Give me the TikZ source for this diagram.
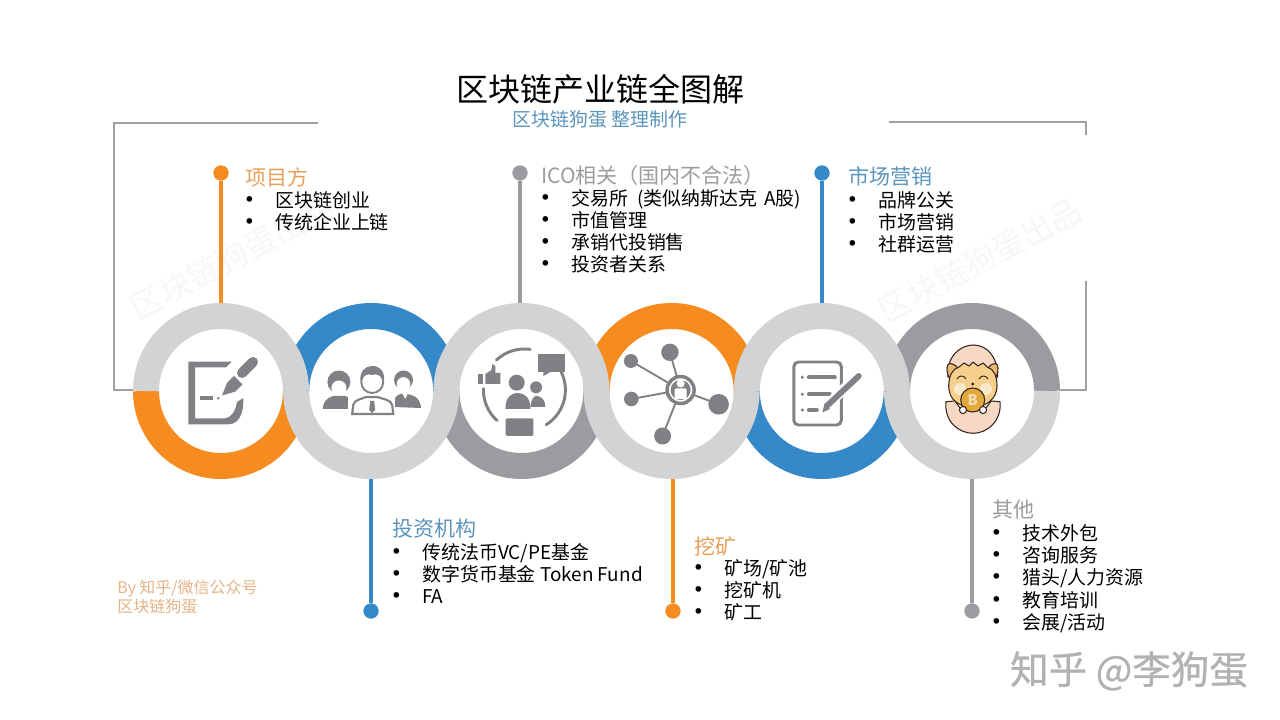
\documentclass[tikz,border=0pt]{standalone}
\usepackage{xcolor}
\usepackage{fontspec}
\setmainfont{Noto Sans CJK SC}
\newfontfamily\zhihufont[FakeBold=.8]{Noto Sans CJK SC}
\usetikzlibrary{arrows,positioning,shapes}
\usetikzlibrary{calc}
\definecolor{ringgrey}{HTML}{D1D3D4}
\definecolor{darkgrey}{HTML}{9A9CA0}
\definecolor{icongrey}{HTML}{808184}
\definecolor{myorange}{HTML}{F68B1F}
\definecolor{myblue}{HTML}{3689C9}
\definecolor{headorange}{HTML}{E8A05A}
\definecolor{headblue}{HTML}{5B95BD}
\definecolor{bylinetan}{HTML}{E6B486}
\definecolor{framegrey}{HTML}{A0A0A0}
\definecolor{eggpink}{HTML}{F7D8C4}
\definecolor{dogfur}{HTML}{F6CF8C}
\definecolor{dogear}{HTML}{EDB872}
\definecolor{coingold}{HTML}{E2A83C}
\definecolor{outlinebrown}{HTML}{33261C}
\newcommand{\itm}{\makebox[22.5pt][l]{\kern-6.8pt\raisebox{-1.6pt}{\fontsize{20}{16.5}\selectfont•}}}

\begin{document}
\begin{tikzpicture}[x=.75pt,y=.75pt,
  hub/.style={circle,minimum size=132pt,inner sep=0pt},
  arcgrey/.style={ringgrey,line width=19.5pt},
  arcdark/.style={darkgrey,line width=19.5pt},
  arcorange/.style={myorange,line width=19.5pt},
  arcblue/.style={myblue,line width=19.5pt},
  dot/.style={circle,minimum size=11.5pt,inner sep=0pt},
  stem/.style={line width=2.4pt},
  frameline/.style={framegrey,line width=1.1pt},
  head/.style={anchor=west,inner sep=0pt,font=\fontsize{15.75}{18}\selectfont},
  items/.style={anchor=north west,inner sep=0pt,align=left,font=\fontsize{14.2}{16.5}\selectfont},
  stamp/.style={rotate=28,text=black!3,inner sep=0pt,font=\fontsize{24}{26}\selectfont},
  ico/.style={fill=icongrey,draw=none},
  icoline/.style={icongrey,line width=2.2pt,line cap=round},
  egg/.style={fill=eggpink,draw=outlinebrown,line width=.8pt,line join=round}]

    \useasboundingbox (0,0) rectangle (1280,720);
    \fill[white] (0,0) rectangle (1280,720);

    \node[stamp](stamp1) at (232,463){区块链狗蛋出品};
    \node[stamp](stamp2) at (980,460){区块链狗蛋出品};

    \node[hub](hub1) at (221,329){};
    \node[hub](hub2) at (371.2,329){};
    \node[hub](hub3) at (521.4,329){};
    \node[hub](hub4) at (671.6,329){};
    \node[hub](hub5) at (821.8,329){};
    \node[hub](hub6) at (972,329){};

    % coloured halves first, the grey chain lies over them
    \draw[arcorange](hub1.center) ++(75,0) arc (0:-180:75);
    \draw[arcblue](hub2.center) ++(75,0) arc (0:180:75);
    \draw[arcdark](hub3.center) ++(75,0) arc (0:-180:75);
    \draw[arcorange](hub4.center) ++(75,0) arc (0:180:75);
    \draw[arcblue](hub5.center) ++(75,0) arc (0:-180:75);
    \draw[arcdark](hub6.center) ++(75,0) arc (0:180:75);

    \draw[arcgrey](hub1.center) ++(75,0) arc (0:180:75);
    \draw[arcgrey](hub2.center) ++(75,0) arc (0:-180:75);
    \draw[arcgrey](hub3.center) ++(75,0) arc (0:180:75);
    \draw[arcgrey](hub4.center) ++(75,0) arc (0:-180:75);
    \draw[arcgrey](hub5.center) ++(75,0) arc (0:180:75);
    \draw[arcgrey](hub6.center) ++(75,0) arc (0:-180:75);

    % outer frame
    \coordinate (frameA) at (318,597);
    \coordinate (frameB) at (114,597);
    \coordinate (frameC) at (114,330);
    \coordinate (frameD) at (889,598);
    \coordinate (frameE) at (1086,598);
    \coordinate (frameF) at (1086,585);
    \coordinate (frameG) at (1086,439);
    \coordinate (frameH) at (1086,330);
    \draw[frameline](frameA) -- (frameB) -- (frameC) -- (hub1.west |- frameC);
    \draw[frameline](frameD) -- (frameE) -- (frameF);
    \draw[frameline](frameG) -- (frameH) -- (hub6.east |- frameH);

    % stems
    \node[dot,fill=myorange](dot1) at (221,547){};
    \node[dot,fill=myblue](dot2) at (371,109){};
    \node[dot,fill=darkgrey](dot3) at (520,547){};
    \node[dot,fill=myorange](dot4) at (673,109){};
    \node[dot,fill=myblue](dot5) at (822,547){};
    \node[dot,fill=darkgrey](dot6) at (972,109){};
    \draw[stem,myorange](dot1) -- (dot1 |- hub1.north);
    \draw[stem,myblue](dot2) -- (dot2 |- hub2.south);
    \draw[stem,darkgrey](dot3) -- (dot3 |- hub3.north);
    \draw[stem,myorange](dot4) -- (dot4 |- hub4.south);
    \draw[stem,myblue](dot5) -- (dot5 |- hub5.north);
    \draw[stem,darkgrey](dot6) -- (dot6 |- hub6.south);

    % texts
    \node[inner sep=0pt,font=\fontsize{24}{27}\selectfont](title) at (600,631){区块链产业链全图解};
    \node[inner sep=0pt,text=headblue,font=\fontsize{14.2}{16}\selectfont](subtitle) at (600,601){区块链狗蛋 整理制作};

    \node[head,text=headorange](head1) at (245,543){项目方};
    \node[items](list1) at (245,528.5){\itm 区块链创业\\\itm 传统企业上链};
    \node[head,text=darkgrey](head3) at (541,544.5){ICO相关（国内不合法）};
    \node[items](list3) at (541,530.5){\itm 交易所\hspace{7pt}(类似纳斯达克\hspace{2pt} A股)\\\itm 市值管理\\\itm 承销代投销售\\\itm 投资者关系};
    \node[head,text=headblue](head5) at (848,544){市场营销};
    \node[items](list5) at (848,529){\itm 品牌公关\\\itm 市场营销\\\itm 社群运营};
    \node[head,text=headblue](head2) at (392,191.5){投资机构};
    \node[items](list2) at (392,177){\itm 传统法币VC/PE基金\\\itm 数字货币基金 Token Fund\\\itm FA};
    \node[head,text=headorange](head4) at (694,174){挖矿};
    \node[items](list4) at (694,161){\itm 矿场/矿池\\\itm 挖矿机\\\itm 矿工};
    \node[head,text=darkgrey](head6) at (992,210.5){其他};
    \node[items,font=\fontsize{14.2}{16.7}\selectfont](list6) at (992,196){\itm 技术外包\\\itm 咨询服务\\\itm 猎头/人力资源\\\itm 教育培训\\\itm 会展/活动};

    \node[anchor=west,inner sep=0pt,align=left,text=bylinetan,font=\fontsize{12}{14.25}\selectfont](byline) at (117,123){By 知乎/微信公众号\\区块链狗蛋};
    \node[inner sep=0pt,text=black!30,font=\fontsize{28.9}{32}\selectfont\zhihufont](zhihu) at (1129,49){知乎 @李狗蛋};

    % icon: pen and paper
    \begin{scope}[shift={(hub1)}]
      \fill[ico] (-32.7,29.3) -- (10.7,29.3) -- (5,23.7) -- (-26,23.7) -- (-26,-27.3) -- (4,-27.3)
        .. controls (12,-26) and (15,-18) .. (16,-11) -- (22.3,-7)
        .. controls (23,-22) and (18,-33.3) .. (7.3,-33.3) -- (-32.7,-33.3) -- cycle;
      \fill[ico] (-21,-5) rectangle (-7.7,-9);
      \fill[ico] (-2.7,-7.3) circle (1.4);
      \fill[ico] (1,-4.5) -- (6,8) -- (13,15) -- (21.5,6.5) -- (14.5,-.5) -- cycle;
      \draw[icoline,line width=7.5pt] (21,18) -- (32,29);
    \end{scope}

    % icon: three people
    \begin{scope}[shift={(hub2)}]
      \fill[ico] (-48.3,-18) .. controls (-48,-10) and (-44,-7) .. (-38,-5) -- (-26,-5) .. controls (-22,-6) and (-20,-8) .. (-19,-18) -- cycle;
      \fill[ico] (-32.3,9) circle (11.5);
      \fill[white] (-32.3,3) circle (7.5);
      \fill[ico] (22,-16) .. controls (22,-8) and (24,-5) .. (29,-3) -- (36,-3) .. controls (46,-5) and (49,-9) .. (50,-17) -- cycle;
      \fill[white] (31,-2) -- (37,-2) -- (34,-8) -- cycle;
      \fill[ico] (32.3,11) circle (9.5);
      \fill[white] (32.3,7) circle (6.8);
      \fill[white] (-23,-25) rectangle (24,-3);
      \draw[icongrey,line width=1.6pt] (-19,-23) -- (-18,-14) .. controls (-17,-9) and (-10,-8) .. (-5,-6) -- (6,-6) .. controls (12,-8) and (20,-9) .. (21,-14) -- (22,-23) -- cycle;
      \fill[ico] (-1,-10) -- (3,-10) -- (4,-19) -- (1,-22) -- (-2,-19) -- cycle;
      \fill[white] (1,9) circle (12.5);
      \draw[icongrey,line width=1.4pt] (1,9) circle (11);
      \fill[ico] (-11,11) .. controls (-11,20) and (-6,25) .. (1,25) .. controls (9,25) and (13,20) .. (13,11) .. controls (10,15) and (5,18) .. (1,16) .. controls (-3,18) and (-8,15) .. (-11,11) -- cycle;
    \end{scope}

    % icon: community
    \begin{scope}[shift={(hub3)}]
      \draw[icoline] (3,1) ++(133:41) arc (133:82:41);
      \draw[icoline] (3,1) ++(32:41) arc (32:-58:41);
      \draw[icoline] (3,1) ++(178:41) arc (178:228:41);
      \fill[ico] (17,37) rectangle (44,19);
      \fill[ico] (22,19) -- (22,15) -- (29,19) -- cycle;
      \fill[ico] (-43,17) rectangle (-38,7);
      \fill[ico] (-36,17) -- (-30,21) -- (-29,27) -- (-26,25) -- (-26,18) -- (-21,18) -- (-21,7) -- (-36,7) -- cycle;
      \fill[ico] (-4.7,8.3) circle (8);
      \fill[ico] (-16,-18) .. controls (-16,-6) and (-10,-2) .. (-4,-2) .. controls (3,-2) and (9,-6) .. (9,-18) -- cycle;
      \fill[ico] (14.7,3.7) circle (6);
      \fill[ico] (9,-16) .. controls (10,-8) and (12,-5) .. (15,-5) .. controls (20,-5) and (24,-9) .. (24,-16) -- cycle;
      \fill[ico,rounded corners=1pt] (-15.7,-27.3) rectangle (12,-45);
    \end{scope}

    % icon: network
    \begin{scope}[shift={(hub4)}]
      \draw[icongrey,line width=1.4pt] (9,1) -- (-1.7,38.7);
      \draw[icongrey,line width=1.4pt] (9,1) -- (-40.7,30);
      \draw[icongrey,line width=1.4pt] (9,1) -- (-40.3,-8);
      \draw[icongrey,line width=1.4pt] (9,1) -- (47,-13.3);
      \draw[icongrey,line width=1.4pt] (9,1) -- (-9,-45);
      \fill[ico] (-1.7,38.7) circle (8.7);
      \fill[ico] (-40.7,30) circle (7);
      \fill[ico] (-40.3,-8) circle (7.3);
      \fill[ico] (47,-13.3) circle (10.3);
      \fill[ico] (-9,-45) circle (8.5);
      \fill[white] (9,1) circle (14);
      \draw[icongrey,line width=2.6pt] (9,1) circle (13.5);
      \fill[ico] (9,1) circle (10);
      \fill[white] (9,7.5) circle (4);
      \fill[white,rounded corners=1pt] (3,2.5) rectangle (15,-8);
    \end{scope}

    % icon: check list
    \begin{scope}[shift={(hub5)}]
      \draw[icoline,rounded corners=3.5pt] (-28,29) rectangle (19.5,-34);
      \draw[icoline,line width=3pt] (-13,13.5) -- (13,13.5);
      \draw[icoline,line width=3pt] (-13,-3.3) -- (8,-3.3);
      \draw[icoline,line width=3pt] (-13,-19) -- (-5,-19);
      \fill[ico] (-19.5,13.7) circle (1.7);
      \fill[ico] (-19.5,-3.3) circle (1.7);
      \fill[ico] (-19.5,-19) circle (1.7);
      \draw[white,line width=7.5pt] (3,-17) -- (34,14);
      \fill[ico] (.5,-21.5) -- (3,-12) -- (8,-18) -- cycle;
      \draw[icoline,line width=4.4pt,line cap=round] (5.5,-14.5) -- (37,15);
    \end{scope}

    % icon: puppy in an egg
    \begin{scope}[shift={(hub6)}]
      \draw[egg] (-24,14) .. controls (-26,34) and (-12,46) .. (1.3,46) .. controls (15,46) and (26,34) .. (25.7,14) -- cycle;
      \draw[egg,fill=dogear] (-14,23) .. controls (-20,29) and (-25,29) .. (-25,23) .. controls (-25,19) and (-24,15) .. (-22,12) -- cycle;
      \draw[egg,fill=dogear] (16,23) .. controls (21,29) and (26,29) .. (26,23) .. controls (26,19) and (25,15) .. (23,12) -- cycle;
      \draw[egg,fill=dogfur] (-23.3,5) .. controls (-23,15) and (-20,22) .. (-13,24) -- (-8,28) -- (-3,25) -- (1,29) -- (6,25) -- (11,28) -- (15,24) .. controls (22,22) and (25,15) .. (25,5) .. controls (25,-8) and (14,-16) .. (1,-16) .. controls (-14,-16) and (-23.5,-8) .. (-23.3,5) -- cycle;
      \fill[white!55!dogfur] (-12,2) circle (6);
      \fill[white!55!dogfur] (14,2) circle (6);
      \draw[outlinebrown,line width=.7pt] (-15,12) .. controls (-13,16) and (-8,16) .. (-6,12);
      \draw[outlinebrown,line width=.7pt] (7,12) .. controls (9,16) and (14,16) .. (16,12);
      \fill[outlinebrown] (.7,7) circle (1.7);
      \draw[egg] (-26,-10.7) -- (-17,-10) -- (-12,-17) -- (14,-17) -- (19,-10) -- (28,-10.7) .. controls (30,-30) and (15,-42.3) .. (1.3,-42.3) .. controls (-14,-42.3) and (-28,-30) .. (-26,-10.7) -- cycle;
      \draw[egg,fill=coingold] (.7,-9) circle (12);
      \node[inner sep=0pt,text=white!60!coingold,font=\fontsize{11}{12}\selectfont\bfseries](coin) at (.7,-9){B};
      \draw[egg,fill=white] (-9,-19) circle (3.6);
      \draw[egg,fill=white] (11,-19) circle (3.6);
    \end{scope}
\end{tikzpicture}
\end{document}
